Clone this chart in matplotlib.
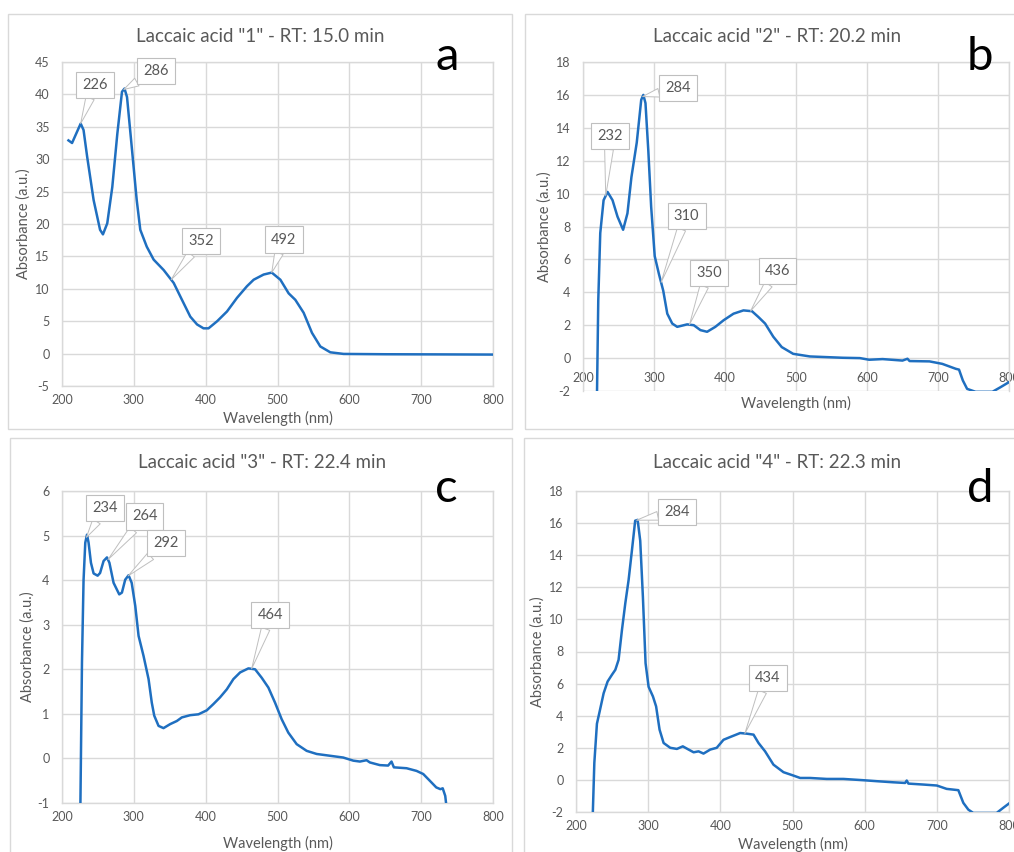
import matplotlib
matplotlib.use("Agg")
import matplotlib.pyplot as plt
from matplotlib.patches import Rectangle
import numpy as np

W, H = 1014, 852
plt.rcParams['font.family'] = ['Lato', 'DejaVu Sans']
plt.rcParams['axes.unicode_minus'] = False

# ---------------- data ----------------
titles = ['Laccaic acid "1" - RT: 15.0 min', 'Laccaic acid "2" - RT: 20.2 min',
          'Laccaic acid "3" - RT: 22.4 min', 'Laccaic acid "4" - RT: 22.3 min']
letters = ['a', 'b', 'c', 'd']

wl_a = [209, 214, 220, 226, 230, 235, 244, 253, 257, 263, 270, 277, 283.5, 287, 290.5, 297.5,
        304, 309, 318, 327.6, 341.5, 355.5, 367, 378.6, 388, 397, 404, 416, 429.7, 443.6,
        457.5, 466.8, 480.7, 492, 504, 515.5, 524.8, 536.4, 548, 559.6, 573.5, 592, 650, 720, 800]
abs_a = [32.9, 32.5, 34.0, 35.5, 34.5, 30.4, 23.7, 19.1, 18.4, 20.1, 25.7, 33.9, 40.4, 40.9, 39.6, 31.4,
         23.7, 19.1, 16.5, 14.5, 12.9, 10.9, 8.3, 5.7, 4.5, 3.9, 3.9, 5.0, 6.5, 8.6,
         10.4, 11.4, 12.2, 12.5, 11.4, 9.3, 8.3, 6.3, 3.2, 1.1, 0.2, -0.05, -0.1, -0.12, -0.15]

wl_b = [219.6, 221.5, 224.3, 229, 234.6, 241.6, 248.6, 256.5, 262.6, 268.2, 275.7, 282, 285, 288,
        292, 296, 301, 307, 313, 318.7, 325.7, 332.7, 346.7, 356, 365.4, 374.8, 386.4, 398, 412,
        426, 438, 447, 456.5, 468, 479.9, 496, 519.6, 566, 590, 603, 622, 650, 657, 660, 688, 706,
        725, 729.6, 735, 741, 753, 776.6, 788, 800]
abs_b = [-2.5, 3.5, 7.6, 9.6, 10.1, 9.6, 8.6, 7.8, 8.8, 11.0, 13.1, 15.7, 16.0, 15.5,
         12.6, 9.2, 6.2, 5.1, 4.1, 2.7, 2.1, 1.9, 2.05, 2.0, 1.7, 1.6, 1.9, 2.3, 2.7,
         2.9, 2.85, 2.5, 2.1, 1.3, 0.67, 0.26, 0.1, 0.02, 0.0, -0.1, -0.06, -0.15, -0.04, -0.18, -0.2, -0.35,
         -0.65, -0.7, -1.36, -1.87, -2.05, -2.05, -1.77, -1.46]

wl_c = [225.5, 227.8, 230, 232.4, 234.8, 237, 240.3, 244, 249.6, 253, 257.9, 262.6, 266, 271.8,
        279.7, 283.4, 288, 292.7, 297, 302, 306.6, 313.5, 320.5, 325, 328.4, 334.4, 341.3, 350.6,
        359.9, 366.8, 378.4, 390, 401.6, 410.8, 420, 429.4, 438.6, 448, 459.5, 468.8, 478, 487.3,
        496.6, 505.8, 515, 526.7, 540.6, 554.5, 573, 591.5, 605.5, 614.7, 624, 628.6, 642.5, 654,
        658.7, 662, 679.7, 693.6, 702.9, 712, 721, 726.8, 730, 733.5, 735]
abs_c = [-1.2, 2.15, 4.0, 4.84, 5.02, 4.84, 4.39, 4.15, 4.1, 4.16, 4.43, 4.51, 4.39, 3.94,
         3.68, 3.72, 4.01, 4.11, 3.94, 3.42, 2.75, 2.3, 1.78, 1.25, 0.96, 0.73, 0.68, 0.77,
         0.84, 0.92, 0.97, 0.99, 1.08, 1.22, 1.37, 1.55, 1.78, 1.93, 2.02, 2.0, 1.81, 1.59,
         1.25, 0.88, 0.58, 0.32, 0.17, 0.1, 0.06, 0.02, -0.05, -0.07, -0.04, -0.09, -0.15, -0.16,
         -0.07, -0.2, -0.22, -0.28, -0.35, -0.5, -0.65, -0.69, -0.67, -0.84, -1.05]

wl_d = [223, 225.4, 229, 232.8, 238.3, 243.8, 249.8, 254.5, 259, 263.7, 268.3, 272.9, 277.5, 282,
        285.4, 289, 292.7, 296.4, 300.6, 306.6, 311, 315.8, 321.4, 330.6, 339.8, 348, 356, 363,
        369.8, 376.7, 386, 395, 404.4, 413.6, 427.5, 436.7, 446, 452.9, 462, 473.6, 487.5, 500,
        510.6, 524.4, 547.5, 570.6, 598.3, 616.7, 639.8, 656, 658.3, 660.6, 681.4, 700, 713.6,
        729.8, 736.7, 743.6, 750.5, 782.8, 792, 800]
abs_d = [-2.5, 1.06, 3.5, 4.27, 5.4, 6.13, 6.55, 6.86, 7.48, 9.35, 11.0, 12.46, 14.3, 16.15,
         16.2, 14.9, 11.4, 7.27, 5.8, 5.2, 4.58, 3.13, 2.3, 2.0, 1.93, 2.09, 1.89, 1.72,
         1.78, 1.64, 1.89, 2.0, 2.5, 2.67, 2.92, 2.88, 2.82, 2.3, 1.78, 0.95, 0.48, 0.29,
         0.12, 0.12, 0.06, 0.06, -0.02, -0.08, -0.15, -0.19, -0.04, -0.23, -0.29, -0.35, -0.56,
         -0.64, -1.43, -1.85, -2.06, -2.06, -1.74, -1.47]

peaks_a = [226, 286, 352, 492]
peaks_b = [232, 284, 310, 350, 436]
peaks_c = [234, 264, 292, 464]
peaks_d = [284, 434]

yticks_a = [-5, 0, 5, 10, 15, 20, 25, 30, 35, 40, 45]
yticks_b = [-2, 0, 2, 4, 6, 8, 10, 12, 14, 16, 18]
yticks_c = [-1, 0, 1, 2, 3, 4, 5, 6]
yticks_d = [-2, 0, 2, 4, 6, 8, 10, 12, 14, 16, 18]
xticks = [200, 300, 400, 500, 600, 700, 800]

# ---------------- layout ----------------
# axes pixel boxes: left, right, top, bottom
boxes = [(62, 493, 62, 386), (583, 1009, 62, 391), (62, 493, 491, 803), (576, 1009, 491, 812)]
frames = [(8, 14, 512, 429), (525, 14, 1020, 429), (10, 438, 512, 860), (524, 438, 1020, 860)]
title_xy = [(260, 37), (777, 37), (262, 463), (777, 462)]
letter_xy = [(447, 70), (980, 70), (446, 502), (980, 502)]
ylabel_x = [24, 545, 28, 538]
xlabel_y = [418, 403, 843, 844]
callouts = [
    [(246, 41.5), (331, 43.6), (394, 17.4), (509, 17.6)],
    [(238, 13.5), (334, 16.4), (346, 8.65), (378, 5.18), (474, 5.3)],
    [(260, 5.62), (315, 5.43), (345, 4.84), (490, 3.21)],
    [(340, 16.7), (466, 6.34)],
]

BLUE = '#1f6fc0'
GRID = '#d9d9d9'
TXT = '#595959'

fig = plt.figure(figsize=(W / 100, H / 100), dpi=100)

# frames
for (x0, y0, x1, y1) in frames:
    fig.patches.append(Rectangle((x0 / W, 1 - y1 / H), (x1 - x0) / W, (y1 - y0) / H,
                                 transform=fig.transFigure, fill=False, ec=GRID, lw=1.0))

series = [(wl_a, abs_a, peaks_a, yticks_a), (wl_b, abs_b, peaks_b, yticks_b),
          (wl_c, abs_c, peaks_c, yticks_c), (wl_d, abs_d, peaks_d, yticks_d)]

for i, (wl, ab, peaks, yt) in enumerate(series):
    l, r, t, b = boxes[i]
    ax = fig.add_axes([l / W, 1 - b / H, (r - l) / W, (b - t) / H])
    ax.plot(wl, ab, color=BLUE, lw=1.8, zorder=3, solid_joinstyle='round')
    ax.set_xlim(200, 800)
    ax.set_ylim(yt[0], yt[-1])
    ax.set_xticks(xticks)
    ax.set_yticks(yt)
    ax.grid(True, color=GRID, lw=1.0, zorder=0)
    ax.set_axisbelow(True)
    for s in ax.spines.values():
        s.set_color(GRID)
        s.set_linewidth(1.0)
    ax.tick_params(length=0, labelsize=9, colors=TXT, pad=9)
    ax.tick_params(axis='x', pad=6)
    if i == 1:
        ax.spines['bottom'].set_position(('data', 0))
        ax.spines['bottom'].set_visible(False)
        ax.tick_params(axis='x', pad=10)
    ax.set_ylabel('Absorbance (a.u.)', fontsize=10.5, color=TXT)
    ax.yaxis.set_label_coords((ylabel_x[i] - l) / (r - l), 0.5)
    ax.set_xlabel('Wavelength (nm)', fontsize=10.5, color=TXT)
    ax.xaxis.set_label_coords(0.5, -(xlabel_y[i] - b) / (b - t))
    ax.xaxis.label.set_va('center')
    ax.yaxis.label.set_va('center')

    for p, (tx, ty) in zip(peaks, callouts[i]):
        py = float(np.interp(p, wl, ab))
        ax.annotate(str(p), xy=(p, py), xytext=(tx, ty), textcoords='data',
                    ha='center', va='center', fontsize=10.5, color=TXT, zorder=5,
                    bbox=dict(boxstyle='square,pad=0.42', fc='white', ec='#bfbfbf', lw=0.8),
                    arrowprops=dict(arrowstyle='wedge,tail_width=0.6,shrink_factor=0.5',
                                    fc='white', ec='#bfbfbf', lw=0.7, shrinkA=0, shrinkB=0))

    fig.text(title_xy[i][0] / W, 1 - title_xy[i][1] / H, titles[i], ha='center', va='center',
             fontsize=13.5, color=TXT)
    fig.text(letter_xy[i][0] / W, 1 - letter_xy[i][1] / H, letters[i], ha='center',
             va='baseline', fontsize=34, color='black')

fig.savefig('out.png', dpi=100)
